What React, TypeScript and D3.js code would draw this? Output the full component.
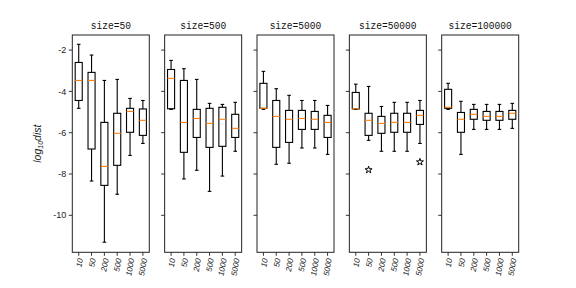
import React from 'react';
import * as d3 from 'd3';

// panel titles and x categories
const sizes = ['50', '500', '5000', '50000', '100000'];
const xCats = ['10', '50', '200', '500', '1000', '5000'];
const yTicks = [-2, -4, -6, -8, -10];

// [whisker low, q1, median, q3, whisker high] per x category
const statsSize50 = [
  [-4.82, -4.44, -3.47, -2.6, -1.72],
  [-8.34, -6.79, -3.47, -3.08, -2.24],
  [-11.3, -8.55, -7.63, -5.5, -3.47],
  [-8.98, -7.58, -6.03, -5.06, -3.42],
  [-7.1, -5.98, -4.97, -4.82, -4.34],
  [-6.52, -6.13, -5.4, -4.85, -4.44],
];
const statsSize500 = [
  [-4.87, -4.84, -3.37, -2.94, -2.5],
  [-8.24, -6.95, -5.5, -3.47, -2.9],
  [-7.82, -6.23, -5.31, -4.87, -3.42],
  [-8.84, -6.71, -5.55, -4.82, -4.58],
  [-8.1, -6.66, -5.35, -4.77, -4.63],
  [-6.9, -6.23, -5.79, -5.11, -4.53],
];
const statsSize5000 = [
  [-4.87, -4.82, -4.82, -3.61, -3.03],
  [-7.53, -6.71, -5.21, -4.44, -3.87],
  [-7.48, -6.47, -5.35, -4.92, -4.19],
  [-6.74, -5.84, -5.31, -4.92, -4.44],
  [-6.74, -5.84, -5.35, -4.97, -4.44],
  [-7.05, -6.23, -5.5, -5.16, -4.68],
];
const statsSize50000 = [
  [-4.87, -4.85, -4.84, -4.05, -3.65],
  [-6.37, -6.13, -5.4, -5.06, -3.76],
  [-6.9, -6.03, -5.55, -5.21, -4.73],
  [-6.9, -5.98, -5.5, -5.06, -4.53],
  [-6.9, -5.98, -5.5, -5.06, -4.53],
  [-6.52, -5.6, -5.16, -4.92, -4.44],
];
const statsSize100000 = [
  [-4.87, -4.82, -4.77, -3.9, -3.61],
  [-7.05, -5.98, -5.35, -5.02, -4.48],
  [-5.84, -5.35, -5.11, -4.87, -4.63],
  [-5.84, -5.4, -5.21, -4.97, -4.63],
  [-5.84, -5.4, -5.21, -4.97, -4.63],
  [-5.79, -5.35, -5.06, -4.92, -4.58],
];
const allStats = [statsSize50, statsSize500, statsSize5000, statsSize50000, statsSize100000];

// outliers: [panel index, category index, value]
const outliers = [
  [3, 1, -7.8],
  [3, 5, -7.42],
];

const W = 576;
const H = 288;
const top = 35;
const bottom = 252.3;
const panelLeft0 = 72.3;
const panelStep = 92.35;
const panelW = 77;

const App = () => {
  const y = d3.scaleLinear().domain([-11.79, -1.27]).range([bottom, top]);
  const x = d3.scaleLinear().domain([0.5, 6.5]).range([0, panelW]);
  const star = d3.symbol(d3.symbolStar, 15)();
  const slot = x(2) - x(1);
  const boxHalf = slot * 0.275;
  const capHalf = slot * 0.14;
  const titleFont = '"Liberation Mono", monospace';
  const tickFont = '"Liberation Sans", Arial, sans-serif';

  return (
    <svg width={W} height={H} style={{ position: 'fixed', left: 0, top: 0, background: '#fff' }}>
      <rect width={W} height={H} fill="#fff" />
      <text
        transform={`translate(41,${(top + bottom) / 2}) rotate(-90)`}
        textAnchor="middle"
        fontFamily={tickFont}
        fontSize={10.5}
        fontStyle="italic"
        fill="#222"
      >
        log<tspan fontSize={7} dy={2}>10</tspan><tspan dy={-2}>dist</tspan>
      </text>
      {sizes.map((s, p) => {
        const left = panelLeft0 + p * panelStep;
        const stats = allStats[p];
        const label = `size=${s}`;
        return (
          <g key={s} transform={`translate(${left},0)`}>
            <text
              x={panelW / 2 - (label.length * 5.75) / 2}
              y={top - 6}
              fontFamily={titleFont}
              fontSize={11}
              textLength={label.length * 5.75}
              lengthAdjust="spacingAndGlyphs"
              fill="#111"
            >
              {label}
            </text>
            {yTicks.map(t => (
              <g key={t}>
                <line x1={-3.5} x2={0} y1={y(t)} y2={y(t)} stroke="#000" strokeWidth={0.8} />
                {p === 0 && (
                  <text x={-6} y={y(t)} dy="0.35em" textAnchor="end" fontFamily={tickFont} fontSize={9} fill="#222">
                    {String(t).replace('\u2212', '-')}
                  </text>
                )}
              </g>
            ))}
            {xCats.map((c, i) => {
              const cx = x(i + 1);
              return (
                <g key={c}>
                  <line x1={cx} x2={cx} y1={bottom} y2={bottom + 3.5} stroke="#000" strokeWidth={0.8} />
                  <text
                    transform={`translate(${cx + 1.5},${bottom + 6}) rotate(-80)`}
                    textAnchor="end"
                    dy="0.35em"
                    fontFamily={tickFont}
                    fontSize={8}
                    fontStyle="italic"
                    fill="#222"
                  >
                    {c}
                  </text>
                </g>
              );
            })}
            {stats.map((d, i) => {
              const [lo, q1, med, q3, hi] = d;
              const cx = x(i + 1);
              return (
                <g key={i} stroke="#000" strokeWidth={1.1} fill="none">
                  <line x1={cx} x2={cx} y1={y(q3)} y2={y(hi)} />
                  <line x1={cx} x2={cx} y1={y(q1)} y2={y(lo)} />
                  <line x1={cx - capHalf} x2={cx + capHalf} y1={y(hi)} y2={y(hi)} />
                  <line x1={cx - capHalf} x2={cx + capHalf} y1={y(lo)} y2={y(lo)} />
                  <rect x={cx - boxHalf} y={y(q3)} width={boxHalf * 2} height={y(q1) - y(q3)} />
                  <line x1={cx - boxHalf} x2={cx + boxHalf} y1={y(med)} y2={y(med)} stroke="#ff7f0e" />
                </g>
              );
            })}
            {outliers
              .filter(o => o[0] === p)
              .map((o, k) => (
                <path
                  key={k}
                  d={star}
                  transform={`translate(${x(o[1] + 1)},${y(o[2])})`}
                  fill="#fff"
                  stroke="#000"
                  strokeWidth={1}
                />
              ))}
            <rect x={0} y={top} width={panelW} height={bottom - top} fill="none" stroke="#222" strokeWidth={1} />
          </g>
        );
      })}
    </svg>
  );
};

export default App;
